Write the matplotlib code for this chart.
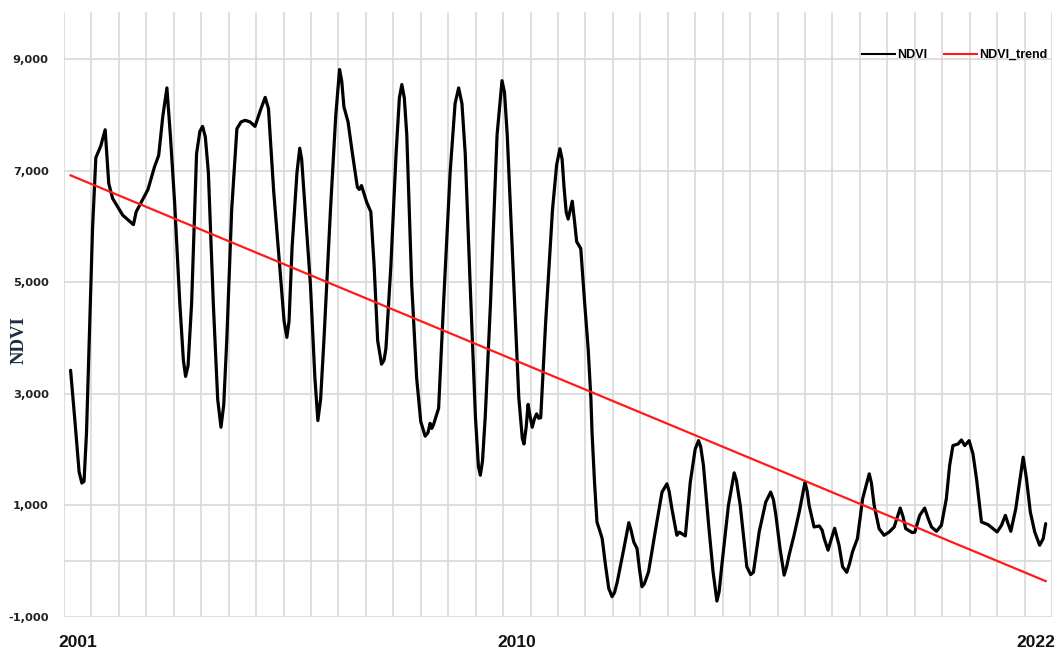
import matplotlib
matplotlib.use("Agg")
import matplotlib.pyplot as plt
from matplotlib.lines import Line2D

# ---- data (x in grid-column units, 0..36) ----
ndvi_x = [0.24, 0.40, 0.55, 0.65, 0.73, 0.82, 0.92, 1.04, 1.16, 1.34, 1.50, 1.56, 1.63, 1.77, 2.14, 2.53,
          2.63, 3.06, 3.30, 3.45, 3.60, 3.75, 3.88, 4.03, 4.22, 4.35, 4.43, 4.52, 4.65, 4.83, 4.95, 5.05,
          5.15, 5.26, 5.44, 5.60, 5.72, 5.82, 5.93, 6.11, 6.30, 6.45, 6.60, 6.78, 6.96, 7.15, 7.33, 7.45,
          7.64, 7.88, 8.02, 8.12, 8.20, 8.31, 8.49, 8.59, 8.66, 8.74, 8.98, 9.14, 9.25, 9.35, 9.47, 9.71,
          9.90, 10.04, 10.12, 10.20, 10.35, 10.51, 10.69, 10.76, 10.84, 11.03, 11.18, 11.30, 11.43, 11.57,
          11.66, 11.73, 11.91, 12.10, 12.22, 12.31, 12.40, 12.49, 12.67, 12.85, 13.00, 13.16, 13.26, 13.34,
          13.40, 13.46, 13.56, 13.65, 13.83, 14.07, 14.25, 14.38, 14.50, 14.62, 14.80, 14.99, 15.10, 15.17,
          15.25, 15.35, 15.54, 15.78, 15.96, 16.05, 16.15, 16.39, 16.57, 16.70, 16.76, 16.84, 16.91, 16.98,
          17.06, 17.14, 17.22, 17.30, 17.37, 17.55, 17.80, 17.95, 18.07, 18.15, 18.22, 18.30, 18.37, 18.45,
          18.52, 18.60, 18.68, 18.83, 18.96, 19.10, 19.20, 19.24, 19.33, 19.42, 19.52, 19.61, 19.73, 19.85,
          19.97, 20.06, 20.16, 20.40, 20.58, 20.66, 20.76, 20.88, 20.97, 21.06, 21.15, 21.30, 21.54, 21.79,
          21.97, 22.05, 22.15, 22.33, 22.42, 22.51, 22.64, 22.82, 23.00, 23.12, 23.20, 23.30, 23.49, 23.65,
          23.79, 23.87, 23.97, 24.21, 24.42, 24.50, 24.64, 24.88, 25.02, 25.12, 25.33, 25.57, 25.75, 25.85,
          25.94, 26.09, 26.24, 26.33, 26.42, 26.60, 26.79, 27.00, 27.08, 27.15, 27.33, 27.52, 27.62, 27.70,
          27.84, 28.00, 28.08, 28.24, 28.37, 28.52, 28.62, 28.73, 28.91, 29.10, 29.34, 29.42, 29.52, 29.70,
          29.88, 30.07, 30.25, 30.47, 30.57, 30.67, 30.91, 31.00, 31.18, 31.36, 31.49, 31.61, 31.79, 31.97,
          32.15, 32.27, 32.39, 32.58, 32.70, 32.82, 32.98, 33.12, 33.25, 33.43, 33.67, 33.85, 34.00, 34.16,
          34.30, 34.40, 34.50, 34.68, 34.82, 34.95, 35.07, 35.21, 35.37, 35.55, 35.68, 35.77]
ndvi_y = [3420, 2500, 1600, 1400, 1430, 2300, 3950, 5960, 7230, 7440, 7730, 7300, 6770, 6500, 6200, 6030,
          6260, 6660, 7070, 7270, 7970, 8480, 7600, 6430, 4620, 3600, 3310, 3500, 4620, 7300, 7700, 7790,
          7600, 6970, 4620, 2900, 2400, 2800, 3950, 6300, 7750, 7870, 7900, 7870, 7790, 8070, 8310, 8110,
          6630, 5150, 4300, 4010, 4300, 5620, 6970, 7400, 7200, 6630, 4950, 3300, 2520, 2900, 3950, 6300,
          7970, 8810, 8600, 8140, 7870, 7300, 6700, 6660, 6730, 6430, 6260, 5290, 3950, 3530,
          3600, 3810, 5290, 7300, 8300, 8540, 8300, 7640, 4950, 3280, 2500, 2240, 2300, 2470,
          2380, 2440, 2600, 2740, 4620, 6970, 8200, 8480, 8200, 7300, 4950, 2600, 1700, 1540,
          1800, 2600, 4620, 7640, 8610, 8400, 7640, 4950, 2940, 2200, 2100, 2400, 2810, 2600,
          2400, 2550, 2640, 2560, 2570, 4280, 6300, 7100, 7390, 7200, 6700, 6250, 6130, 6300,
          6450, 6100, 5725, 5600, 4700, 3800, 2900, 2310, 1420, 700, 550, 405, -70, -490,
          -636, -560, -370, 226, 690, 560, 345, 226, -150, -458, -400, -190, 524, 1238,
          1387, 1250, 940, 464, 520, 494, 452, 1416, 2011, 2160, 2050, 1714, 643, -190,
          -714, -550, -71, 1000, 1583, 1450, 1000, -100, -240, -200, 524, 1060, 1238, 1100,
          821, 226, -250, -100, 107, 464, 881, 1416, 1250, 1000, 613, 631, 560, 405,
          197, 464, 590, 286, -100, -200, -50, 167, 405, 1119, 1565, 1400, 1000, 583,
          464, 524, 613, 952, 800, 583, 512, 520, 821, 952, 762, 613, 536, 643,
          1119, 1714, 2071, 2101, 2172, 2071, 2160, 1922, 1476, 702, 655, 583, 524, 643,
          821, 673, 536, 940, 1416, 1863, 1476, 881, 524, 286, 405, 673]

trend_x = [0.24, 35.77]
trend_y = [6913, -357]

year_pos = [0.5, 16.5, 35.4]
year_labels = ["2001", "2010", "2022"]
y_ticks = [-1000, 0, 1000, 3000, 5000, 7000, 9000]
y_labels = ["-1,000", "", "1,000", "3,000", "5,000", "7,000", "9,000"]
n_cols = 36

fig = plt.figure(figsize=(10.62, 6.51), dpi=100)
ax = fig.add_axes([64 / 1062, 34 / 651, 988 / 1062, 605 / 651])

grid_c = "#d9d9d9"
ax.set_xlim(0, n_cols)
ax.set_ylim(-1000, 9840)
ax.set_xticks(range(n_cols + 1), minor=True)
ax.grid(which="minor", axis="x", color=grid_c, lw=1.2)
ax.set_yticks(y_ticks, y_labels)
ax.grid(which="major", axis="y", color=grid_c, lw=1.2)
ax.set_xticks(year_pos, year_labels)
ax.tick_params(axis="both", which="both", length=0)
ax.tick_params(axis="x", pad=13)
ax.tick_params(axis="y", pad=11)
for lab in ax.get_xticklabels():
    lab.set_fontfamily("Liberation Sans")
    lab.set_fontweight("bold")
    lab.set_fontsize(12.5)
    lab.set_color("#111111")
for lab in ax.get_yticklabels():
    lab.set_fontfamily("DejaVu Sans")
    lab.set_fontweight("bold")
    lab.set_fontsize(8.2)
    lab.set_color("#222222")
for s in ax.spines.values():
    s.set_visible(False)
ax.set_axisbelow(True)

ax.plot(ndvi_x, ndvi_y, color="black", lw=2.3, solid_joinstyle="round", solid_capstyle="round", zorder=3)
ax.plot(trend_x, trend_y, color="#ff1a1a", lw=1.6, zorder=4)

ax.set_ylabel("NDVI", fontfamily="Liberation Serif", fontweight="bold", fontsize=13.5, color="#1f2a44")
ax.yaxis.set_label_coords((28 - 64) / 988, (617 - 340) / 605)

handles = [Line2D([], [], color="black", lw=1.5), Line2D([], [], color="#ff1a1a", lw=1.5)]
leg = ax.legend(handles, ["NDVI", "NDVI_trend"], ncol=2, frameon=False, loc="center left",
                bbox_to_anchor=(0.808, 0.929), borderaxespad=0, borderpad=0,
                handlelength=2.6, handletextpad=0.15, columnspacing=1.4,
                prop={"family": "Liberation Sans", "weight": "bold", "size": 9})

fig.savefig("out.png", dpi=100)
